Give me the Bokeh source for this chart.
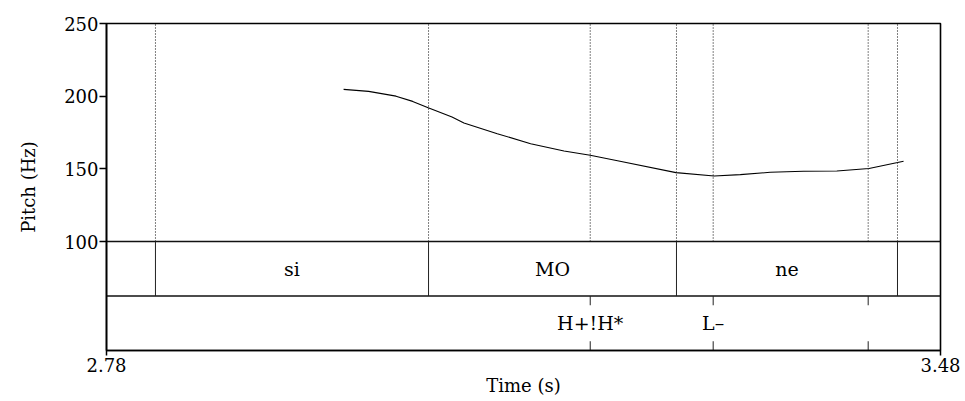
from bokeh.plotting import figure
from bokeh.models import FixedTicker
from bokeh.core.properties import value
from bokeh.embed import file_html
from bokeh.resources import INLINE

# ---- data ----
time_s = [2.979, 3.000, 3.023, 3.037, 3.050, 3.070, 3.080, 3.108, 3.136, 3.164,
          3.186, 3.211, 3.258, 3.290, 3.312, 3.337, 3.365, 3.393, 3.420, 3.444, 3.449]
pitch_hz = [204.7, 203.3, 200.0, 196.4, 192.0, 185.6, 181.5, 174.2, 167.3, 162.3,
            159.3, 155.2, 147.4, 145.1, 146.0, 147.6, 148.3, 148.5, 150.2, 154.3, 155.2]

word_bounds = [2.8211, 3.0503, 3.2584, 3.4439]
word_labels = ["si", "MO", "ne"]
tone_points = [3.1860, 3.2892, 3.4193]
tone_labels = ["H+!H*", "L–", ""]

x_ticks = [2.78, 3.48]
y_ticks = [100, 150, 200, 250]
t_min, t_max = 2.78, 3.48
f_min, f_max = 100, 250
tier_h = 37.5  # each tier occupies this many Hz-units below the pitch area
y_bottom = f_min - 2 * tier_h

FONT = "DejaVu Serif"

p = figure(width=965, height=401, x_range=(t_min, t_max), y_range=(y_bottom, f_max),
           output_backend="svg", toolbar_location=None,
           min_border_left=106, min_border_right=25, min_border_top=23, min_border_bottom=51)
p.background_fill_color = "white"
p.border_fill_color = "white"
p.outline_line_color = "black"
p.outline_line_width = 1.6
p.xgrid.visible = False
p.ygrid.visible = False

# axes
p.yaxis.ticker = FixedTicker(ticks=y_ticks)
p.xaxis.ticker = FixedTicker(ticks=x_ticks)
for ax in (p.xaxis[0], p.yaxis[0]):
    ax.axis_line_color = "black"
    ax.axis_line_width = 1.6
    ax.major_tick_line_color = "black"
    ax.major_tick_line_width = 1.5
    ax.major_tick_in = 0
    ax.minor_tick_line_color = None
    ax.major_label_text_font = FONT
    ax.major_label_text_font_size = "18px"
    ax.major_label_text_color = "black"
    ax.axis_label_text_font = FONT
    ax.axis_label_text_font_size = "18px"
    ax.axis_label_text_font_style = "normal"
    ax.axis_label_text_color = "black"
p.yaxis.major_tick_out = 7
p.yaxis.major_label_standoff = 1
p.yaxis.axis_label = "Pitch (Hz)"
p.yaxis.axis_label_standoff = 22
p.xaxis.major_tick_out = 5
p.xaxis.major_label_standoff = 2
p.xaxis.axis_label = "Time (s)"
p.xaxis.axis_label_standoff = 0

# dotted boundary lines across the pitch area
all_marks = word_bounds + tone_points
p.segment(x0=all_marks, y0=[f_min] * len(all_marks), x1=all_marks, y1=[f_max] * len(all_marks),
          line_color="black", line_width=1, line_dash="1 2")

# tier separators
p.segment(x0=[t_min, t_min], y0=[f_min, f_min - tier_h], x1=[t_max, t_max],
          y1=[f_min, f_min - tier_h], line_color="#111111", line_width=1.3)

# word tier boundaries
p.segment(x0=word_bounds, y0=[f_min - tier_h] * len(word_bounds), x1=word_bounds,
          y1=[f_min] * len(word_bounds), line_color="#222222", line_width=1)

# word labels
mids = [(word_bounds[i] + word_bounds[i + 1]) / 2 for i in range(len(word_labels))]
p.text(x=mids, y=[f_min - tier_h / 2] * len(mids), text=word_labels,
       text_font=value(FONT), text_font_size="19px", text_align="center",
       text_baseline="middle", text_color="black")

# tone tier point ticks (top and bottom)
tick_len = tier_h * 0.17
top = f_min - tier_h
p.segment(x0=tone_points, y0=[top] * 3, x1=tone_points, y1=[top - tick_len] * 3,
          line_color="#222222", line_width=1)
p.segment(x0=tone_points, y0=[y_bottom] * 3, x1=tone_points, y1=[y_bottom + tick_len] * 3,
          line_color="#222222", line_width=1)
p.text(x=tone_points, y=[f_min - 1.5 * tier_h] * 3, text=tone_labels,
       text_font=value(FONT), text_font_size="19px", text_align="center",
       text_baseline="middle", text_color="black")

# pitch contour
p.line(time_s, pitch_hz, line_color="black", line_width=1.1)

open("out.html", "w").write(file_html(p, INLINE))
